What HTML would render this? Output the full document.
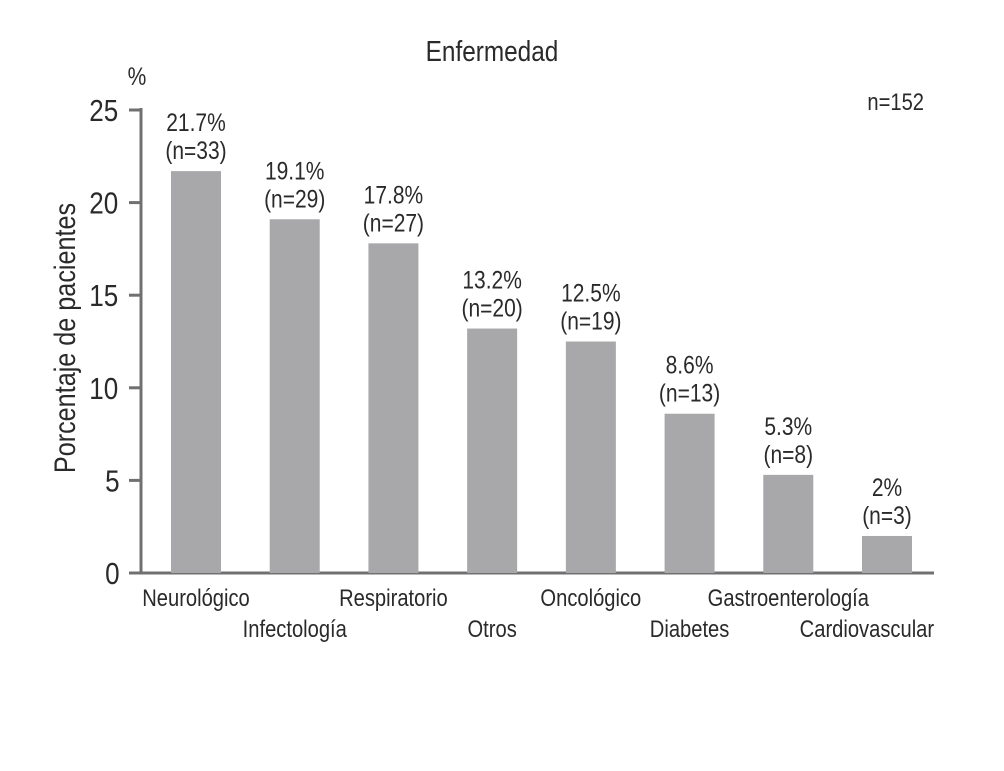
<!DOCTYPE html>
<html><head><meta charset="utf-8"><style>
body{margin:0;background:#fff;}
svg text{font-family:"Liberation Sans Narrow","Liberation Sans",sans-serif;fill:#2a2a2a;transform-box:fill-box;transform-origin:center;transform:scaleX(0.84);}
</style></head><body>
<svg id="chart" width="1004" height="766" viewBox="0 0 1004 766" xmlns="http://www.w3.org/2000/svg">
<text x="492" y="61" font-size="29" text-anchor="middle">Enfermedad</text>
<text x="137" y="85" font-size="25" text-anchor="middle">%</text>
<text x="924" y="110" font-size="24" text-anchor="end" style="transform-origin:right">n=152</text>
<g transform="translate(75,338) rotate(-90)"><text x="0" y="0" font-size="30" text-anchor="middle">Porcentaje de pacientes</text></g>
<g id="axes"></g><g id="bars"></g>
</svg>
<script>
const categories=["Neurológico","Infectología","Respiratorio","Otros","Oncológico","Diabetes","Gastroenterología","Cardiovascular"];
const values=[21.7,19.1,17.8,13.2,12.5,8.6,5.3,2];
const counts=[33,29,27,20,19,13,8,3];
const valueLabels=["21.7%","19.1%","17.8%","13.2%","12.5%","8.6%","5.3%","2%"];
const yTicks=[0,5,10,15,20,25];
const NS="http://www.w3.org/2000/svg";
const y0=573,yTop=110,yMax=25,xL=141,xR=934;
const y=v=>y0-(v/yMax)*(y0-yTop);
const c0=196,c1=887;
const x=i=>c0+i*(c1-c0)/(categories.length-1);
function mk(t,a,p){const e=document.createElementNS(NS,t);for(const k in a)e.setAttribute(k,a[k]);p.appendChild(e);return e;}
const ax=document.getElementById('axes'),bg=document.getElementById('bars');
const yl=mk('line',{x1:xL,y1:yTop-2,x2:xL,y2:y0,stroke:'#707070','stroke-width':3},ax);


const xl=mk('line',{x1:xL-1,y1:y0,x2:xR,y2:y0,stroke:'#707070','stroke-width':3},ax);


yTicks.forEach(t=>{
 const tk=mk('line',{x1:xL-12,y1:y(t),x2:xL,y2:y(t),stroke:'#707070','stroke-width':3},ax);
 
 
 const tl=mk('text',{x:xL-20,y:y(t)+11,'font-size':31,'text-anchor':'end'},ax);
 tl.textContent=t;
 
 
});
categories.forEach((c,i)=>{
 const cx=x(i),w=50;
 const r=mk('rect',{x:cx-w/2,y:y(values[i]),width:w,height:y0-y(values[i]),fill:'#a8a8aa'},bg);
 
 
 const v=mk('text',{x:cx,y:y(values[i])-40,'font-size':25,'text-anchor':'middle'},bg);
 v.textContent=valueLabels[i];
 
 
 const n=mk('text',{x:cx,y:y(values[i])-12,'font-size':25,'text-anchor':'middle'},bg);
 n.textContent='(n='+counts[i]+')';
 
 
 const last=i===categories.length-1;
 const l=mk('text',{x:last?xR:cx,y:(i%2===0?606:637),'font-size':24,'text-anchor':last?'end':'middle'},bg);
 if(last) l.style.transformOrigin='right';
 l.textContent=c;
 
 
});
</script>
</body></html>
